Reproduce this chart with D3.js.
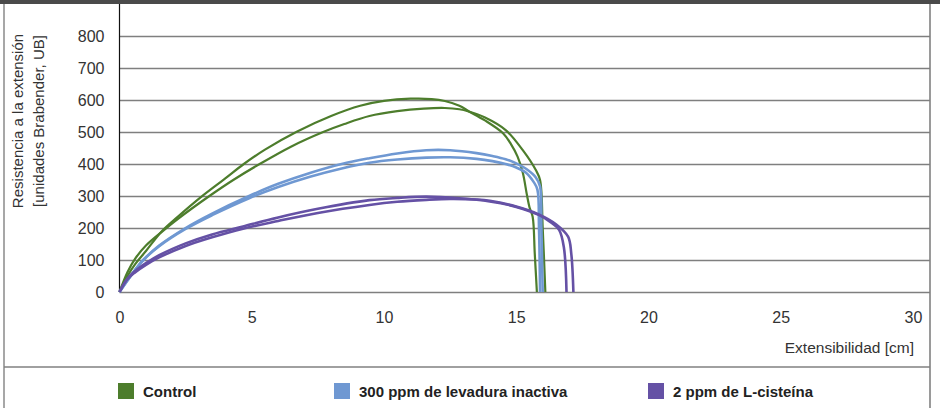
<!DOCTYPE html>
<html>
<head>
<meta charset="utf-8">
<script src="https://cdn.jsdelivr.net/npm/d3@7"></script>
<style>
  body { margin: 0; background: #fff; }
  svg text { font-family: "Liberation Sans", Arial, sans-serif; }
</style>
</head>
<body>
<div id="chart"></div>
<script>
// tick values
const xTicks = [0, 5, 10, 15, 20, 25, 30];
const yTicks = [0, 100, 200, 300, 400, 500, 600, 700, 800];

// curves: [extensibilidad cm, resistencia UB]
const controlA = [[0,0],[0.3,50],[0.6,88],[1,128],[1.6,190],[2.2,235],[3.1,298],[4,355],[4.7,400],[5.5,445],[6.7,501],[8,550],[9.1,582],[10,597],[11,604],[11.8,603],[12.3,597],[12.85,582],[13.2,565],[13.8,537],[14.5,496],[14.8,462],[15.05,423],[15.25,372],[15.4,305],[15.5,265],[15.62,235],[15.7,120],[15.78,0]];
const controlB = [[0,0],[0.3,62],[0.6,105],[1,145],[1.6,188],[2.2,228],[3.4,300],[4.3,350],[5.3,400],[6.5,455],[7.7,500],[8.5,525],[9.45,550],[10.5,565],[11.5,573],[12.3,575],[12.85,571],[13.2,564],[13.8,546],[14.6,506],[15.24,444],[15.74,381],[15.9,350],[16.0,200],[16.1,0]];
const levaduraA = [[0,0],[0.3,36],[0.6,70],[0.9,100],[1.5,145],[2.5,200],[3.5,245],[4.9,300],[6,338],[7.2,372],[8.4,400],[9.45,418],[10.5,433],[11.6,443],[12.5,443],[13.5,434],[14.1,425],[14.6,415],[15,402],[15.37,385],[15.74,358],[15.9,330],[15.95,200],[16.0,0]];
const levaduraB = [[0,0],[0.3,36],[0.6,70],[0.9,100],[1.5,143],[2.5,197],[3.5,240],[4.9,293],[6,328],[7.2,360],[8.4,386],[9.45,404],[10.5,414],[11.6,420],[12.5,421],[13.5,416],[14.1,409],[14.6,400],[15,389],[15.37,373],[15.65,345],[15.8,320],[15.86,200],[15.9,0]];
const cisteinaA = [[0,0],[0.3,42],[0.6,66],[1,90],[1.5,115],[2.5,152],[3.5,180],[4.67,205],[6,233],[7.5,260],[9.45,287],[10.5,294],[11.6,298],[12.85,293],[14,283],[15,266],[15.87,240],[16.3,218],[16.62,194],[16.8,140],[16.9,0]];
const cisteinaB = [[0,0],[0.3,40],[0.6,62],[1,85],[1.5,108],[2.5,144],[3.5,171],[4.67,198],[6,222],[7.5,247],[9.45,272],[10.5,282],[11.6,288],[12.5,291],[13.5,289],[14,285],[15,267],[15.87,242],[16.5,212],[16.96,173],[17.08,120],[17.16,0]];

const seriesNames = ["Control", "300 ppm de levadura inactiva", "2 ppm de L-cisteína"];
const seriesColors = ["#4d7d2c", "#6f98d2", "#6551a5"];
const seriesCurves = [[controlA, controlB], [levaduraA, levaduraB], [cisteinaA, cisteinaB]];

const W = 940, H = 408;
const plotLeft = 119.5, plotRight = 913, plotTop = 36, plotBottom = 292;
const frameL = 4, frameR = 930;

const svg = d3.select("#chart").append("svg")
    .attr("width", W)
    .attr("height", H);

const x = d3.scaleLinear().domain([0, 30]).range([plotLeft, plotRight]);
const y = d3.scaleLinear().domain([0, 800]).range([plotBottom, plotTop]);

// frame
svg.append("rect").attr("x", 0).attr("y", 0).attr("width", W).attr("height", 4).attr("fill", "#4a4a4a");
svg.append("line").attr("x1", frameL).attr("x2", frameL).attr("y1", 4).attr("y2", H)
    .attr("stroke", "#8a8a8a").attr("stroke-width", 1.5);
svg.append("line").attr("x1", frameR).attr("x2", frameR).attr("y1", 4).attr("y2", H)
    .attr("stroke", "#9a9a9a").attr("stroke-width", 2);
svg.append("line").attr("x1", frameL).attr("x2", frameR).attr("y1", 367).attr("y2", 367)
    .attr("stroke", "#808080").attr("stroke-width", 1.5);

// gridlines
svg.append("g")
    .attr("transform", `translate(${plotLeft},0)`)
    .call(d3.axisLeft(y).tickValues(yTicks).tickSize(-(frameR - plotLeft)).tickFormat(""))
    .call(g => g.select(".domain").remove())
    .call(g => g.selectAll(".tick line").attr("stroke", "#7f7f7f").attr("stroke-width", 1.4));

// y axis line
svg.append("line").attr("x1", plotLeft).attr("x2", plotLeft).attr("y1", 4).attr("y2", plotBottom)
    .attr("stroke", "#111").attr("stroke-width", 1.2);

// y tick labels
svg.append("g")
    .attr("transform", `translate(${plotLeft},0)`)
    .call(d3.axisLeft(y).tickValues(yTicks).tickSize(0).tickPadding(15))
    .call(g => g.select(".domain").remove())
    .call(g => g.selectAll("text").attr("fill", "#333").style("font-size", "16px"));

// x tick labels
svg.append("g")
    .attr("transform", `translate(0,${plotBottom})`)
    .call(d3.axisBottom(x).tickValues(xTicks).tickSize(0).tickPadding(20))
    .call(g => g.select(".domain").remove())
    .call(g => g.selectAll("text").attr("fill", "#333").style("font-size", "16px"));

// axis titles
svg.append("text")
    .attr("text-anchor", "end")
    .attr("x", 914)
    .attr("y", 353)
    .attr("fill", "#333")
    .style("font-size", "15.5px")
    .text("Extensibilidad [cm]");

const yTitle = svg.append("text")
    .attr("text-anchor", "middle")
    .attr("transform", "translate(23,121) rotate(-90)")
    .attr("fill", "#333")
    .style("font-size", "15px");
yTitle.append("tspan").attr("x", 0).attr("y", 0).text("Resistencia a la extensión");
yTitle.append("tspan").attr("x", 0).attr("y", 20.5).text("[unidades Brabender, UB]");

// curves
const line = d3.line()
    .x(d => x(d[0]))
    .y(d => y(d[1]))
    .curve(d3.curveCatmullRom.alpha(0.5));

seriesCurves.forEach((curves, i) => {
    curves.forEach(c => {
        svg.append("path")
            .datum(c)
            .attr("fill", "none")
            .attr("stroke", seriesColors[i])
            .attr("stroke-width", i === 0 ? 2.2 : 2.6)
            .attr("stroke-linejoin", "round")
            .attr("d", line);
    });
});

// legend
const legendX = [118, 334, 648];
const legend = svg.append("g");
seriesNames.forEach((name, i) => {
    legend.append("rect")
        .attr("x", legendX[i])
        .attr("y", 383)
        .attr("width", 16)
        .attr("height", 16)
        .attr("fill", seriesColors[i]);
    legend.append("text")
        .attr("x", legendX[i] + 25)
        .attr("y", 397)
        .attr("fill", "#222")
        .style("font-size", "15px")
        .style("font-weight", "bold")
        .text(name);
});
</script>
</body>
</html>
